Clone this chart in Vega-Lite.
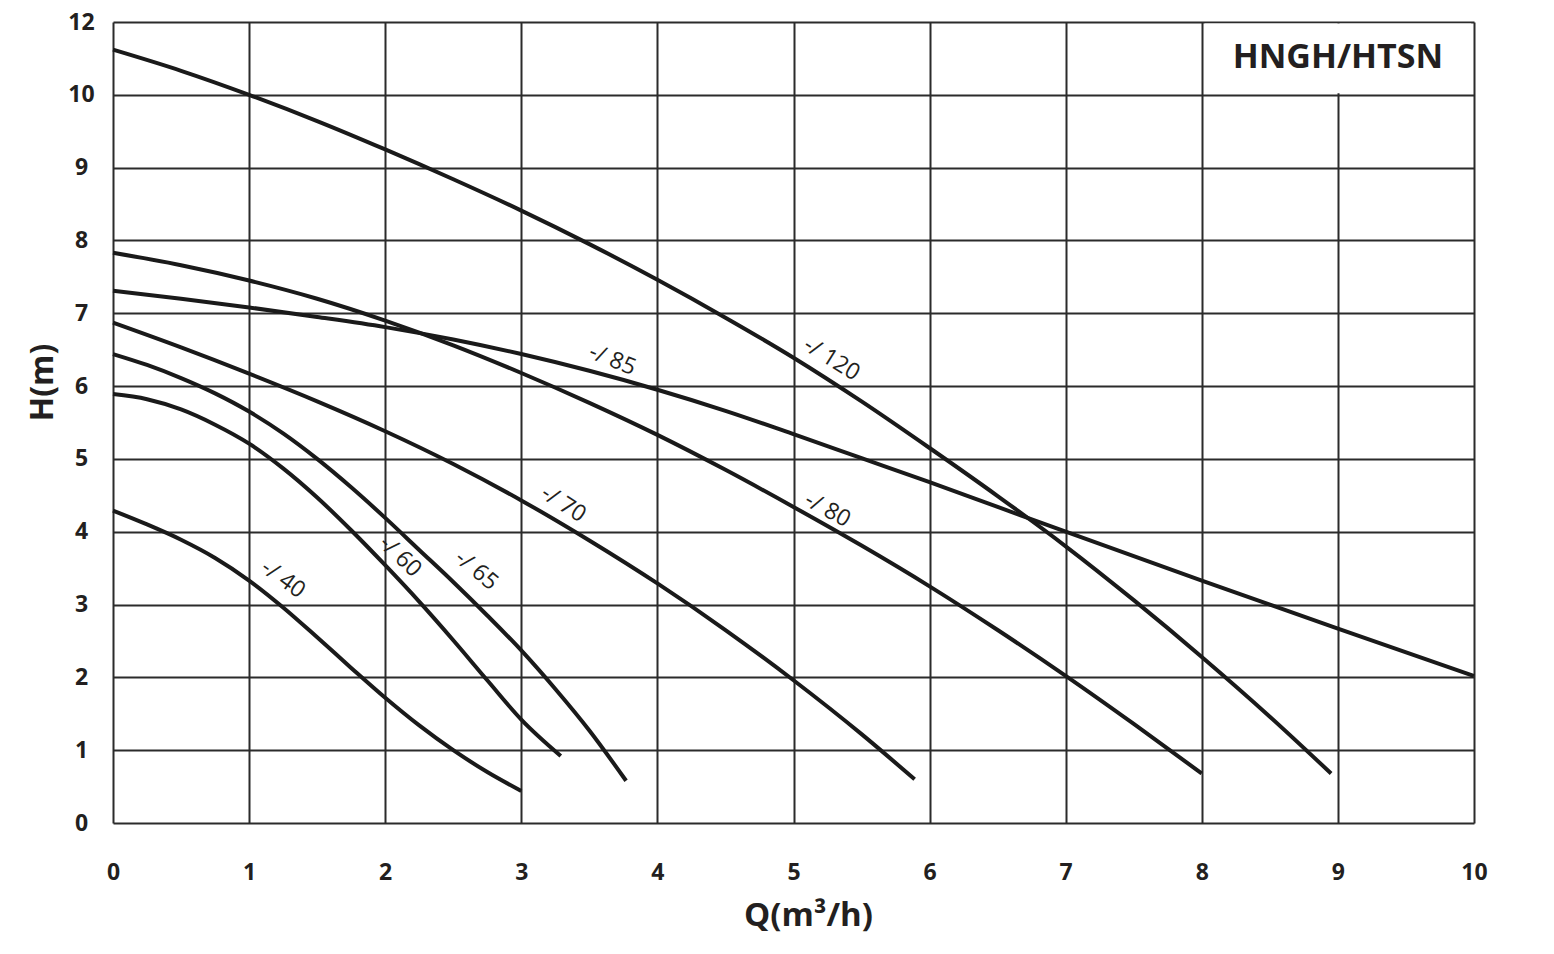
{
  "$schema": "https://vega.github.io/schema/vega-lite/v6.json",
  "width": 1361,
  "height": 801,
  "autosize": {"type": "none"},
  "padding": {"left": 113, "top": 22, "right": 80, "bottom": 131},
  "background": "white",
  "config": {"view": {"stroke": null}, "font": "Open Sans"},
  "datasets": {
    "curves": [
      {"pump": "-/120", "Q": 0, "H": 10.62}, {"pump": "-/120", "Q": 0.5, "H": 10.33}, {"pump": "-/120", "Q": 1, "H": 10.0}, {"pump": "-/120", "Q": 1.5, "H": 9.64}, {"pump": "-/120", "Q": 2, "H": 9.25}, {"pump": "-/120", "Q": 2.5, "H": 8.84}, {"pump": "-/120", "Q": 3, "H": 8.41}, {"pump": "-/120", "Q": 3.5, "H": 7.95}, {"pump": "-/120", "Q": 4, "H": 7.46}, {"pump": "-/120", "Q": 4.5, "H": 6.94}, {"pump": "-/120", "Q": 5, "H": 6.39}, {"pump": "-/120", "Q": 5.5, "H": 5.79}, {"pump": "-/120", "Q": 6, "H": 5.15}, {"pump": "-/120", "Q": 6.5, "H": 4.49}, {"pump": "-/120", "Q": 7, "H": 3.80}, {"pump": "-/120", "Q": 7.5, "H": 3.06}, {"pump": "-/120", "Q": 8, "H": 2.28}, {"pump": "-/120", "Q": 8.5, "H": 1.46}, {"pump": "-/120", "Q": 8.95, "H": 0.68},
      {"pump": "-/85", "Q": 0, "H": 7.31}, {"pump": "-/85", "Q": 0.5, "H": 7.20}, {"pump": "-/85", "Q": 1, "H": 7.08}, {"pump": "-/85", "Q": 1.5, "H": 6.95}, {"pump": "-/85", "Q": 2, "H": 6.81}, {"pump": "-/85", "Q": 2.5, "H": 6.64}, {"pump": "-/85", "Q": 3, "H": 6.44}, {"pump": "-/85", "Q": 3.5, "H": 6.21}, {"pump": "-/85", "Q": 4, "H": 5.95}, {"pump": "-/85", "Q": 4.5, "H": 5.66}, {"pump": "-/85", "Q": 5, "H": 5.34}, {"pump": "-/85", "Q": 5.5, "H": 5.01}, {"pump": "-/85", "Q": 6, "H": 4.68}, {"pump": "-/85", "Q": 6.5, "H": 4.34}, {"pump": "-/85", "Q": 7, "H": 4.0}, {"pump": "-/85", "Q": 8, "H": 3.33}, {"pump": "-/85", "Q": 9, "H": 2.67}, {"pump": "-/85", "Q": 10, "H": 2.02},
      {"pump": "-/80", "Q": 0, "H": 7.83}, {"pump": "-/80", "Q": 0.5, "H": 7.66}, {"pump": "-/80", "Q": 1, "H": 7.45}, {"pump": "-/80", "Q": 1.5, "H": 7.20}, {"pump": "-/80", "Q": 2, "H": 6.90}, {"pump": "-/80", "Q": 2.5, "H": 6.56}, {"pump": "-/80", "Q": 3, "H": 6.18}, {"pump": "-/80", "Q": 3.5, "H": 5.77}, {"pump": "-/80", "Q": 4, "H": 5.33}, {"pump": "-/80", "Q": 4.5, "H": 4.85}, {"pump": "-/80", "Q": 5, "H": 4.34}, {"pump": "-/80", "Q": 5.5, "H": 3.81}, {"pump": "-/80", "Q": 6, "H": 3.25}, {"pump": "-/80", "Q": 6.5, "H": 2.65}, {"pump": "-/80", "Q": 7, "H": 2.02}, {"pump": "-/80", "Q": 7.5, "H": 1.36}, {"pump": "-/80", "Q": 8, "H": 0.68},
      {"pump": "-/70", "Q": 0, "H": 6.87}, {"pump": "-/70", "Q": 0.5, "H": 6.53}, {"pump": "-/70", "Q": 1, "H": 6.17}, {"pump": "-/70", "Q": 1.5, "H": 5.79}, {"pump": "-/70", "Q": 2, "H": 5.38}, {"pump": "-/70", "Q": 2.5, "H": 4.93}, {"pump": "-/70", "Q": 3, "H": 4.43}, {"pump": "-/70", "Q": 3.5, "H": 3.88}, {"pump": "-/70", "Q": 4, "H": 3.29}, {"pump": "-/70", "Q": 4.5, "H": 2.65}, {"pump": "-/70", "Q": 5, "H": 1.96}, {"pump": "-/70", "Q": 5.5, "H": 1.22}, {"pump": "-/70", "Q": 5.89, "H": 0.60},
      {"pump": "-/65", "Q": 0, "H": 6.44}, {"pump": "-/65", "Q": 0.25, "H": 6.29}, {"pump": "-/65", "Q": 0.5, "H": 6.11}, {"pump": "-/65", "Q": 0.75, "H": 5.90}, {"pump": "-/65", "Q": 1, "H": 5.65}, {"pump": "-/65", "Q": 1.25, "H": 5.35}, {"pump": "-/65", "Q": 1.5, "H": 5.0}, {"pump": "-/65", "Q": 1.75, "H": 4.61}, {"pump": "-/65", "Q": 2, "H": 4.19}, {"pump": "-/65", "Q": 2.25, "H": 3.75}, {"pump": "-/65", "Q": 2.5, "H": 3.31}, {"pump": "-/65", "Q": 2.75, "H": 2.85}, {"pump": "-/65", "Q": 3, "H": 2.37}, {"pump": "-/65", "Q": 3.25, "H": 1.84}, {"pump": "-/65", "Q": 3.5, "H": 1.27}, {"pump": "-/65", "Q": 3.77, "H": 0.58},
      {"pump": "-/60", "Q": 0, "H": 5.89}, {"pump": "-/60", "Q": 0.25, "H": 5.82}, {"pump": "-/60", "Q": 0.5, "H": 5.68}, {"pump": "-/60", "Q": 0.75, "H": 5.47}, {"pump": "-/60", "Q": 1, "H": 5.21}, {"pump": "-/60", "Q": 1.25, "H": 4.87}, {"pump": "-/60", "Q": 1.5, "H": 4.47}, {"pump": "-/60", "Q": 1.75, "H": 4.02}, {"pump": "-/60", "Q": 2, "H": 3.54}, {"pump": "-/60", "Q": 2.25, "H": 3.04}, {"pump": "-/60", "Q": 2.5, "H": 2.51}, {"pump": "-/60", "Q": 2.75, "H": 1.96}, {"pump": "-/60", "Q": 3, "H": 1.42}, {"pump": "-/60", "Q": 3.29, "H": 0.92},
      {"pump": "-/40", "Q": 0, "H": 4.29}, {"pump": "-/40", "Q": 0.25, "H": 4.10}, {"pump": "-/40", "Q": 0.5, "H": 3.89}, {"pump": "-/40", "Q": 0.75, "H": 3.64}, {"pump": "-/40", "Q": 1, "H": 3.33}, {"pump": "-/40", "Q": 1.25, "H": 2.96}, {"pump": "-/40", "Q": 1.5, "H": 2.55}, {"pump": "-/40", "Q": 1.75, "H": 2.13}, {"pump": "-/40", "Q": 2, "H": 1.72}, {"pump": "-/40", "Q": 2.25, "H": 1.34}, {"pump": "-/40", "Q": 2.5, "H": 1.0}, {"pump": "-/40", "Q": 2.75, "H": 0.70}, {"pump": "-/40", "Q": 3, "H": 0.44}
    ],
    "labels": [
      {"label": "-/ 40", "Q": 1.25, "H": 3.35},
      {"label": "-/ 60", "Q": 2.11, "H": 3.66},
      {"label": "-/ 65", "Q": 2.67, "H": 3.47},
      {"label": "-/ 70", "Q": 3.31, "H": 4.38},
      {"label": "-/ 80", "Q": 5.25, "H": 4.30},
      {"label": "-/ 85", "Q": 3.67, "H": 6.36},
      {"label": "-/ 120", "Q": 5.28, "H": 6.37}
    ],
    "box": [{"Q": 8.02, "Q2": 9.98, "H": 10.02, "H2": 10.98}],
    "title": [{"text": "HNGH/HTSN", "Q": 9.0, "H": 10.5}]
  },
  "encoding": {
    "x": {
      "field": "Q", "type": "quantitative",
      "scale": {"domain": [0, 10], "nice": false, "zero": false},
      "axis": {
        "title": "Q(m³/h)", "values": [0, 1, 2, 3, 4, 5, 6, 7, 8, 9, 10],
        "grid": true, "gridColor": "#2b2b2b", "gridWidth": 2, "gridOpacity": 1,
        "domain": false, "ticks": false,
        "labelFont": "Open Sans", "labelFontWeight": "bold", "labelFontSize": 23, "labelColor": "#231f20",
        "labelPadding": 38, "labelFlush": false, "labelOverlap": false,
        "titleFont": "Open Sans", "titleFontSize": 33, "titleFontWeight": "bold", "titleColor": "#231f20",
        "titleX": 695, "titleY": 92, "titleBaseline": "middle", "titleAlign": "center"
      }
    },
    "y": {
      "field": "H", "type": "quantitative",
      "scale": {"domain": [0, 11], "nice": false, "zero": false},
      "axis": {
        "title": "H(m)", "values": [0, 1, 2, 3, 4, 5, 6, 7, 8, 9, 10, 11],
        "labelExpr": "datum.value == 11 ? '12' : datum.label",
        "grid": true, "gridColor": "#2b2b2b", "gridWidth": 2, "gridOpacity": 1,
        "domain": false, "ticks": false,
        "labelFont": "Open Sans", "labelFontWeight": "bold", "labelFontSize": 23, "labelColor": "#231f20",
        "labelPadding": 32, "labelAlign": "center", "labelBaseline": "middle", "labelFlush": false, "labelOverlap": false,
        "titleFont": "Open Sans", "titleFontSize": 32, "titleFontWeight": "bold", "titleColor": "#231f20",
        "titleX": -71, "titleY": 360, "titleBaseline": "middle", "titleAlign": "center", "titleAngle": 270
      }
    }
  },
  "layer": [
    {
      "data": {"name": "box"},
      "mark": {"type": "rect", "fill": "white", "strokeWidth": 0},
      "encoding": {"x2": {"field": "Q2"}, "y2": {"field": "H2"}}
    },
    {
      "data": {"name": "curves"},
      "mark": {"type": "line", "interpolate": "monotone", "stroke": "#1a1a1a", "strokeWidth": 4, "strokeCap": "butt"},
      "encoding": {"detail": {"field": "pump", "type": "nominal"}}
    },
    {
      "data": {"name": "labels"},
      "mark": {"type": "text", "font": "Open Sans", "fontSize": 23, "color": "#231f20", "align": "center", "baseline": "middle"},
      "encoding": {
        "text": {"field": "label"},
        "angle": {
          "field": "label", "type": "nominal",
          "scale": {"type": "ordinal", "domain": ["-/ 40", "-/ 60", "-/ 65", "-/ 70", "-/ 80", "-/ 85", "-/ 120"], "range": [36, 44, 40, 33, 29, 22, 32]},
          "legend": null
        }
      }
    },
    {
      "data": {"name": "title"},
      "mark": {"type": "text", "font": "Open Sans", "fontSize": 34, "fontWeight": "bold", "color": "#231f20", "align": "center", "baseline": "middle"},
      "encoding": {"text": {"field": "text"}}
    }
  ]
}
